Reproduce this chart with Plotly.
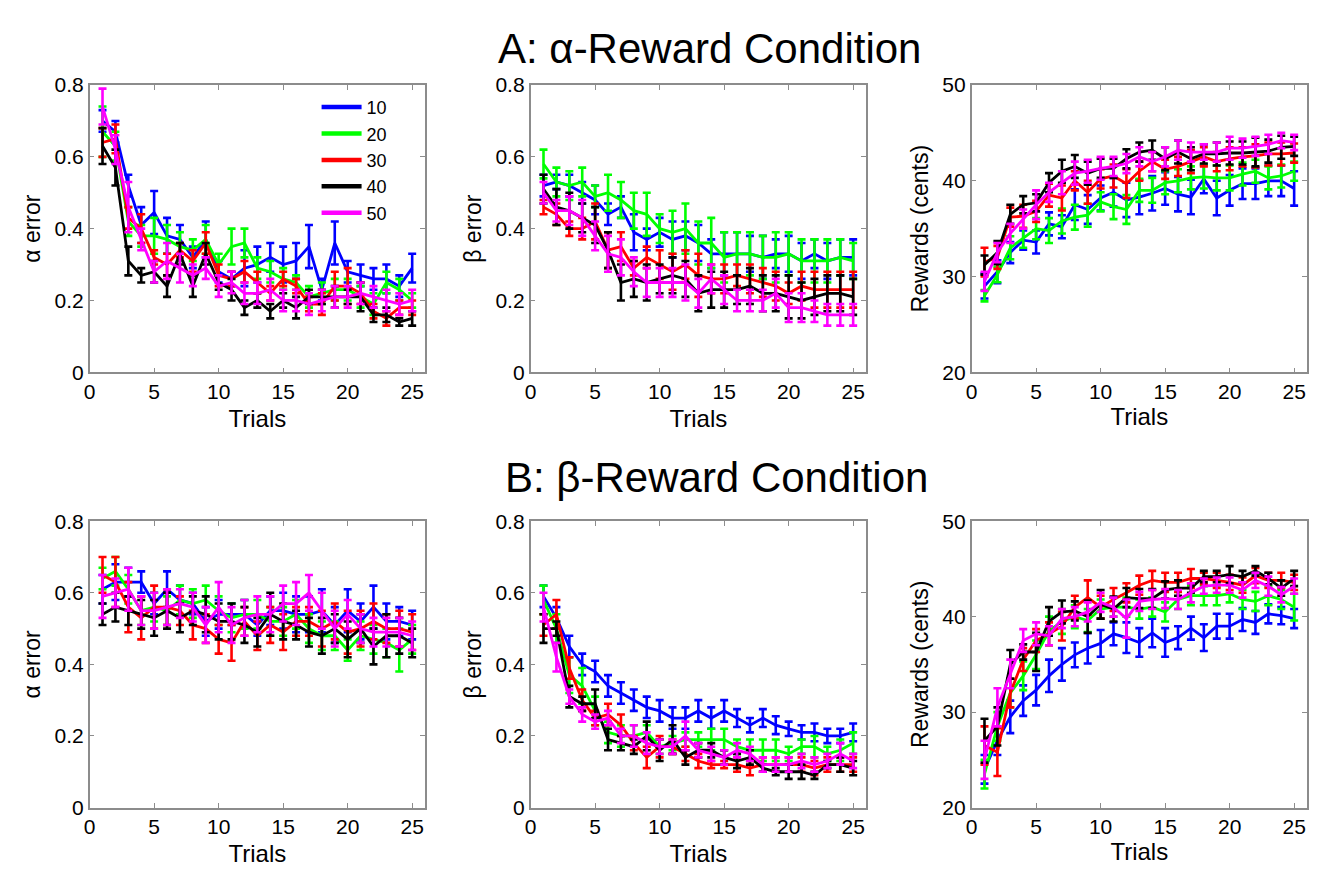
import plotly.graph_objects as go

trials = list(range(1, 26))
series_labels = ["10", "20", "30", "40", "50"]
series_colors = ["#0000FF", "#00FF00", "#FF0000", "#000000", "#FF00FF"]

# ---------- A: alpha-reward condition ----------
# alpha error
a_alpha_10 = [0.70, 0.67, 0.52, 0.41, 0.445, 0.38, 0.37, 0.32, 0.37, 0.28, 0.26, 0.29, 0.30, 0.32, 0.30, 0.31, 0.35, 0.23, 0.36, 0.28, 0.27, 0.26, 0.26, 0.24, 0.29]
a_alpha_20 = [0.67, 0.63, 0.42, 0.38, 0.38, 0.37, 0.35, 0.34, 0.37, 0.30, 0.35, 0.36, 0.29, 0.28, 0.26, 0.25, 0.21, 0.22, 0.23, 0.23, 0.21, 0.19, 0.25, 0.23, 0.20]
a_alpha_30 = [0.64, 0.65, 0.43, 0.40, 0.32, 0.30, 0.34, 0.31, 0.36, 0.27, 0.26, 0.28, 0.25, 0.22, 0.26, 0.24, 0.19, 0.19, 0.24, 0.24, 0.22, 0.17, 0.15, 0.18, 0.18]
a_alpha_40 = [0.63, 0.57, 0.31, 0.27, 0.28, 0.24, 0.33, 0.24, 0.33, 0.25, 0.23, 0.18, 0.20, 0.17, 0.20, 0.18, 0.21, 0.21, 0.21, 0.21, 0.21, 0.16, 0.16, 0.14, 0.15]
a_alpha_50 = [0.74, 0.62, 0.46, 0.37, 0.28, 0.31, 0.29, 0.27, 0.29, 0.24, 0.25, 0.22, 0.22, 0.23, 0.20, 0.20, 0.19, 0.20, 0.21, 0.21, 0.22, 0.21, 0.20, 0.19, 0.20]
a_alpha_10_err = [0.03, 0.03, 0.03, 0.05, 0.06, 0.05, 0.04, 0.03, 0.05, 0.03, 0.02, 0.05, 0.05, 0.04, 0.05, 0.05, 0.06, 0.03, 0.06, 0.03, 0.03, 0.03, 0.04, 0.03, 0.04]
a_alpha_20_err = [0.07, 0.04, 0.04, 0.03, 0.05, 0.04, 0.04, 0.03, 0.04, 0.03, 0.05, 0.04, 0.03, 0.03, 0.03, 0.02, 0.03, 0.03, 0.03, 0.03, 0.03, 0.03, 0.03, 0.03, 0.02]
a_alpha_30_err = [0.04, 0.04, 0.03, 0.04, 0.02, 0.03, 0.02, 0.03, 0.03, 0.03, 0.02, 0.03, 0.03, 0.02, 0.02, 0.02, 0.02, 0.03, 0.04, 0.05, 0.03, 0.02, 0.02, 0.02, 0.02]
a_alpha_40_err = [0.05, 0.05, 0.04, 0.02, 0.03, 0.03, 0.03, 0.03, 0.03, 0.02, 0.03, 0.02, 0.02, 0.02, 0.02, 0.03, 0.02, 0.02, 0.03, 0.02, 0.04, 0.02, 0.02, 0.01, 0.02]
a_alpha_50_err = [0.05, 0.04, 0.07, 0.03, 0.03, 0.05, 0.04, 0.03, 0.03, 0.03, 0.03, 0.03, 0.03, 0.03, 0.03, 0.03, 0.03, 0.03, 0.03, 0.03, 0.03, 0.03, 0.03, 0.03, 0.03]

# beta error
a_beta_10 = [0.52, 0.53, 0.52, 0.50, 0.48, 0.44, 0.46, 0.39, 0.37, 0.39, 0.37, 0.38, 0.36, 0.33, 0.33, 0.33, 0.33, 0.32, 0.33, 0.33, 0.31, 0.33, 0.31, 0.32, 0.32]
a_beta_20 = [0.58, 0.53, 0.52, 0.53, 0.49, 0.50, 0.48, 0.45, 0.44, 0.40, 0.39, 0.40, 0.36, 0.36, 0.32, 0.33, 0.33, 0.32, 0.32, 0.33, 0.31, 0.31, 0.31, 0.32, 0.31]
a_beta_30 = [0.46, 0.44, 0.40, 0.40, 0.42, 0.34, 0.35, 0.29, 0.32, 0.30, 0.28, 0.30, 0.27, 0.26, 0.26, 0.27, 0.26, 0.25, 0.24, 0.22, 0.24, 0.23, 0.23, 0.23, 0.23]
a_beta_40 = [0.51, 0.46, 0.45, 0.43, 0.41, 0.34, 0.25, 0.26, 0.25, 0.26, 0.27, 0.26, 0.22, 0.23, 0.23, 0.23, 0.24, 0.22, 0.22, 0.21, 0.20, 0.21, 0.22, 0.22, 0.21]
a_beta_50 = [0.50, 0.45, 0.45, 0.43, 0.38, 0.33, 0.32, 0.28, 0.25, 0.25, 0.25, 0.25, 0.22, 0.26, 0.23, 0.20, 0.20, 0.20, 0.22, 0.18, 0.18, 0.17, 0.16, 0.16, 0.16]
a_beta_10_err = [0.03, 0.02, 0.03, 0.03, 0.04, 0.03, 0.03, 0.05, 0.03, 0.04, 0.05, 0.04, 0.05, 0.04, 0.06, 0.06, 0.05, 0.06, 0.04, 0.05, 0.05, 0.04, 0.05, 0.05, 0.05]
a_beta_20_err = [0.04, 0.04, 0.04, 0.04, 0.03, 0.05, 0.05, 0.05, 0.06, 0.04, 0.06, 0.07, 0.06, 0.07, 0.07, 0.06, 0.06, 0.06, 0.07, 0.06, 0.06, 0.06, 0.06, 0.05, 0.05]
a_beta_30_err = [0.02, 0.03, 0.02, 0.03, 0.05, 0.05, 0.04, 0.02, 0.03, 0.04, 0.05, 0.04, 0.06, 0.04, 0.04, 0.03, 0.04, 0.04, 0.04, 0.03, 0.04, 0.05, 0.05, 0.05, 0.05]
a_beta_40_err = [0.04, 0.05, 0.05, 0.04, 0.05, 0.05, 0.05, 0.05, 0.05, 0.04, 0.05, 0.05, 0.05, 0.05, 0.05, 0.04, 0.05, 0.05, 0.05, 0.06, 0.05, 0.05, 0.05, 0.05, 0.05]
a_beta_50_err = [0.03, 0.03, 0.04, 0.05, 0.04, 0.05, 0.05, 0.04, 0.04, 0.04, 0.04, 0.05, 0.04, 0.04, 0.04, 0.03, 0.03, 0.03, 0.04, 0.04, 0.04, 0.03, 0.03, 0.03, 0.03]

# rewards
a_rew_10 = [29.0, 30.5, 32.5, 33.8, 33.6, 35.5, 35.2, 37.5, 37.0, 38.2, 38.8, 38.0, 38.3, 38.7, 39.2, 38.6, 38.3, 40.2, 38.2, 39.0, 39.7, 39.7, 40.0, 40.0, 39.2]
a_rew_20 = [28.0, 30.2, 33.0, 34.0, 35.0, 34.8, 35.8, 36.2, 36.4, 37.8, 37.3, 37.0, 39.0, 39.0, 39.8, 40.0, 40.3, 40.4, 40.3, 40.3, 40.7, 41.0, 40.3, 40.5, 41.0]
a_rew_30 = [31.5, 32.0, 36.2, 36.3, 36.8, 38.5, 38.2, 40.0, 38.8, 40.2, 40.5, 39.7, 41.0, 42.0, 41.2, 41.5, 42.0, 42.5, 42.0, 42.3, 42.5, 42.6, 42.8, 42.8, 42.9]
a_rew_40 = [31.2, 32.5, 36.5, 37.5, 37.7, 39.8, 41.0, 41.5, 40.8, 41.3, 41.3, 42.3, 43.0, 43.2, 42.3, 43.0, 42.3, 42.8, 42.8, 42.9, 42.9, 43.0, 43.1, 43.5, 43.6]
a_rew_50 = [29.5, 32.5, 34.5, 36.0, 37.5, 38.8, 39.8, 40.8, 41.0, 41.3, 41.5, 41.8, 42.5, 42.0, 42.5, 43.2, 43.0, 43.0, 43.0, 43.4, 43.4, 43.6, 43.8, 44.2, 44.0]
a_rew_10_err = [1.3, 1.2, 1.1, 1.0, 1.2, 1.2, 1.2, 1.6, 1.5, 1.3, 1.5, 1.8, 1.8, 1.8, 1.7, 1.8, 1.8, 1.5, 1.8, 1.6, 1.6, 1.6, 1.6, 1.6, 1.8]
a_rew_20_err = [0.6, 0.8, 1.2, 1.0, 1.1, 1.3, 1.3, 1.3, 1.2, 1.0, 1.3, 1.5, 1.2, 1.3, 1.2, 1.2, 1.2, 1.2, 1.3, 1.3, 1.2, 1.2, 1.2, 1.2, 1.0]
a_rew_30_err = [1.5, 1.2, 1.0, 1.2, 1.1, 1.2, 1.3, 1.0, 1.2, 1.0, 1.2, 1.5, 1.0, 1.0, 1.0, 1.0, 1.2, 1.0, 1.0, 1.2, 1.0, 1.2, 1.2, 1.2, 1.0]
a_rew_40_err = [1.0, 1.2, 1.0, 0.9, 0.9, 1.0, 1.2, 1.2, 1.2, 1.0, 1.0, 1.0, 1.0, 1.0, 1.2, 1.2, 1.2, 1.0, 1.2, 1.2, 1.2, 1.5, 1.2, 1.2, 1.0]
a_rew_50_err = [1.0, 1.0, 1.0, 1.0, 1.5, 1.0, 1.2, 1.2, 1.2, 1.2, 1.0, 1.0, 1.0, 1.0, 1.0, 1.0, 1.0, 0.8, 1.0, 1.2, 1.0, 1.0, 1.0, 0.8, 0.8]

# ---------- B: beta-reward condition ----------
b_alpha_10 = [0.61, 0.63, 0.63, 0.63, 0.57, 0.61, 0.58, 0.57, 0.52, 0.54, 0.54, 0.54, 0.51, 0.55, 0.55, 0.54, 0.54, 0.55, 0.51, 0.55, 0.52, 0.56, 0.52, 0.52, 0.51]
b_alpha_20 = [0.64, 0.66, 0.61, 0.55, 0.56, 0.55, 0.58, 0.57, 0.58, 0.55, 0.53, 0.54, 0.54, 0.52, 0.52, 0.54, 0.50, 0.48, 0.48, 0.44, 0.48, 0.47, 0.46, 0.44, 0.47]
b_alpha_30 = [0.65, 0.63, 0.56, 0.53, 0.56, 0.56, 0.55, 0.51, 0.50, 0.47, 0.46, 0.52, 0.48, 0.51, 0.49, 0.52, 0.52, 0.50, 0.52, 0.49, 0.50, 0.52, 0.50, 0.50, 0.49]
b_alpha_40 = [0.54, 0.56, 0.55, 0.54, 0.53, 0.55, 0.53, 0.55, 0.54, 0.52, 0.52, 0.51, 0.49, 0.54, 0.52, 0.51, 0.49, 0.48, 0.50, 0.47, 0.50, 0.45, 0.48, 0.48, 0.46]
b_alpha_50 = [0.59, 0.60, 0.61, 0.55, 0.55, 0.56, 0.57, 0.56, 0.51, 0.56, 0.51, 0.53, 0.54, 0.54, 0.57, 0.57, 0.60, 0.55, 0.50, 0.54, 0.50, 0.49, 0.49, 0.49, 0.48]
b_alpha_10_err = [0.04, 0.05, 0.04, 0.03, 0.03, 0.05, 0.04, 0.03, 0.04, 0.04, 0.03, 0.04, 0.03, 0.04, 0.05, 0.05, 0.05, 0.06, 0.05, 0.06, 0.05, 0.06, 0.05, 0.04, 0.04]
b_alpha_20_err = [0.03, 0.04, 0.04, 0.04, 0.04, 0.04, 0.04, 0.04, 0.04, 0.04, 0.04, 0.04, 0.04, 0.04, 0.04, 0.04, 0.04, 0.04, 0.04, 0.03, 0.04, 0.04, 0.04, 0.06, 0.04]
b_alpha_30_err = [0.05, 0.07, 0.07, 0.06, 0.06, 0.05, 0.04, 0.04, 0.04, 0.04, 0.05, 0.04, 0.04, 0.05, 0.05, 0.04, 0.04, 0.05, 0.05, 0.06, 0.05, 0.05, 0.04, 0.05, 0.05]
b_alpha_40_err = [0.03, 0.04, 0.04, 0.04, 0.05, 0.05, 0.04, 0.04, 0.05, 0.05, 0.05, 0.05, 0.04, 0.06, 0.05, 0.04, 0.04, 0.05, 0.04, 0.05, 0.04, 0.05, 0.06, 0.05, 0.04]
b_alpha_50_err = [0.06, 0.04, 0.06, 0.04, 0.05, 0.05, 0.04, 0.04, 0.05, 0.07, 0.05, 0.05, 0.05, 0.05, 0.05, 0.06, 0.05, 0.05, 0.05, 0.04, 0.04, 0.04, 0.04, 0.04, 0.04]

b_beta_10 = [0.59, 0.53, 0.45, 0.40, 0.38, 0.34, 0.32, 0.30, 0.28, 0.27, 0.25, 0.25, 0.27, 0.25, 0.27, 0.25, 0.23, 0.25, 0.23, 0.22, 0.21, 0.21, 0.20, 0.20, 0.21]
b_beta_20 = [0.58, 0.50, 0.37, 0.34, 0.27, 0.21, 0.20, 0.20, 0.21, 0.17, 0.18, 0.19, 0.19, 0.19, 0.19, 0.17, 0.16, 0.16, 0.16, 0.15, 0.17, 0.17, 0.15, 0.16, 0.18]
b_beta_30 = [0.51, 0.54, 0.39, 0.30, 0.25, 0.26, 0.23, 0.18, 0.14, 0.17, 0.17, 0.15, 0.13, 0.12, 0.12, 0.12, 0.11, 0.12, 0.12, 0.12, 0.12, 0.11, 0.12, 0.12, 0.12]
b_beta_40 = [0.50, 0.50, 0.31, 0.29, 0.29, 0.19, 0.18, 0.17, 0.20, 0.16, 0.19, 0.14, 0.16, 0.16, 0.14, 0.13, 0.14, 0.11, 0.10, 0.10, 0.10, 0.09, 0.12, 0.12, 0.11]
b_beta_50 = [0.56, 0.42, 0.31, 0.26, 0.24, 0.25, 0.20, 0.20, 0.18, 0.17, 0.17, 0.20, 0.16, 0.15, 0.14, 0.16, 0.15, 0.12, 0.12, 0.12, 0.13, 0.12, 0.13, 0.15, 0.13]
b_beta_10_err = [0.03, 0.03, 0.03, 0.03, 0.03, 0.03, 0.03, 0.03, 0.03, 0.03, 0.03, 0.03, 0.03, 0.03, 0.03, 0.025, 0.02, 0.025, 0.025, 0.02, 0.02, 0.025, 0.02, 0.02, 0.025]
b_beta_20_err = [0.04, 0.04, 0.05, 0.05, 0.04, 0.03, 0.03, 0.03, 0.02, 0.02, 0.02, 0.02, 0.02, 0.03, 0.03, 0.02, 0.03, 0.03, 0.03, 0.02, 0.02, 0.03, 0.02, 0.03, 0.03]
b_beta_30_err = [0.03, 0.04, 0.03, 0.03, 0.02, 0.03, 0.03, 0.02, 0.03, 0.03, 0.02, 0.02, 0.02, 0.01, 0.01, 0.02, 0.02, 0.02, 0.02, 0.02, 0.02, 0.02, 0.02, 0.02, 0.02]
b_beta_40_err = [0.04, 0.02, 0.03, 0.02, 0.04, 0.03, 0.02, 0.02, 0.04, 0.03, 0.04, 0.02, 0.02, 0.02, 0.02, 0.02, 0.02, 0.01, 0.01, 0.02, 0.02, 0.01, 0.01, 0.02, 0.02]
b_beta_50_err = [0.04, 0.04, 0.02, 0.02, 0.02, 0.02, 0.02, 0.03, 0.03, 0.02, 0.02, 0.04, 0.02, 0.02, 0.02, 0.02, 0.02, 0.02, 0.02, 0.02, 0.02, 0.02, 0.02, 0.03, 0.02]

b_rew_10 = [24.0, 27.0, 29.5, 31.2, 32.3, 33.8, 35.0, 36.0, 36.7, 37.2, 38.2, 37.8, 37.3, 38.3, 37.3, 37.8, 38.8, 37.8, 39.0, 39.0, 39.7, 39.4, 40.3, 40.1, 39.8]
b_rew_20 = [23.5, 28.5, 32.0, 33.8, 36.0, 38.5, 39.5, 40.0, 39.6, 40.8, 41.0, 41.0, 40.8, 41.0, 40.5, 41.8, 42.2, 42.2, 42.2, 42.4, 41.8, 41.6, 42.2, 41.8, 41.0]
b_rew_30 = [26.5, 25.8, 32.0, 35.5, 37.5, 38.2, 39.0, 41.0, 42.0, 41.0, 41.8, 42.5, 43.3, 43.8, 43.6, 43.6, 44.0, 44.0, 43.8, 43.6, 43.3, 44.3, 43.8, 43.8, 43.6]
b_rew_40 = [27.0, 28.5, 35.0, 36.3, 36.3, 39.5, 40.5, 40.6, 40.0, 41.3, 40.8, 42.0, 41.9, 41.9, 42.8, 43.0, 43.0, 44.2, 44.2, 44.4, 44.2, 44.8, 44.0, 43.0, 44.0]
b_rew_50 = [25.0, 30.5, 34.0, 37.5, 38.2, 38.0, 39.8, 40.0, 40.5, 41.5, 41.0, 39.8, 41.6, 41.8, 41.9, 41.8, 42.5, 43.2, 43.3, 43.3, 42.8, 43.8, 43.2, 42.3, 43.2]
b_rew_10_err = [1.5, 1.5, 1.7, 1.6, 1.6, 1.7, 1.7, 1.3, 1.6, 1.4, 1.2, 1.6, 1.5, 1.5, 1.5, 1.2, 1.2, 1.4, 1.3, 1.3, 1.2, 1.2, 1.0, 0.9, 1.0]
b_rew_20_err = [1.5, 1.5, 1.5, 1.5, 1.5, 1.5, 1.3, 1.2, 1.2, 1.0, 1.0, 1.0, 1.0, 1.0, 1.0, 1.0, 1.0, 1.0, 1.0, 0.9, 1.0, 1.0, 1.0, 1.0, 1.4]
b_rew_30_err = [2.0, 2.5, 1.5, 1.2, 1.2, 1.2, 1.5, 1.2, 1.8, 1.2, 1.2, 1.0, 1.0, 1.0, 1.0, 1.0, 1.0, 0.6, 0.8, 0.8, 0.8, 0.8, 0.8, 0.8, 0.8]
b_rew_40_err = [2.3, 2.0, 1.5, 0.8, 2.0, 1.5, 1.2, 1.0, 1.7, 1.5, 1.3, 1.0, 1.0, 1.0, 0.9, 0.8, 0.5, 0.6, 0.6, 0.9, 0.6, 0.5, 0.6, 0.8, 0.8]
b_rew_50_err = [2.0, 2.0, 1.5, 1.2, 1.2, 1.0, 1.0, 1.0, 1.0, 1.0, 1.0, 2.0, 1.0, 1.0, 1.0, 1.0, 1.0, 0.8, 0.8, 0.8, 0.8, 0.8, 1.0, 0.8, 0.8]

x_tickvals = [0, 5, 10, 15, 20, 25]
err_tickvals = [0, 0.2, 0.4, 0.6, 0.8]
rew_tickvals = [20, 30, 40, 50]

panel_series = [
    ([a_alpha_10, a_alpha_20, a_alpha_30, a_alpha_40, a_alpha_50],
     [a_alpha_10_err, a_alpha_20_err, a_alpha_30_err, a_alpha_40_err, a_alpha_50_err]),
    ([a_beta_10, a_beta_20, a_beta_30, a_beta_40, a_beta_50],
     [a_beta_10_err, a_beta_20_err, a_beta_30_err, a_beta_40_err, a_beta_50_err]),
    ([a_rew_10, a_rew_20, a_rew_30, a_rew_40, a_rew_50],
     [a_rew_10_err, a_rew_20_err, a_rew_30_err, a_rew_40_err, a_rew_50_err]),
    ([b_alpha_10, b_alpha_20, b_alpha_30, b_alpha_40, b_alpha_50],
     [b_alpha_10_err, b_alpha_20_err, b_alpha_30_err, b_alpha_40_err, b_alpha_50_err]),
    ([b_beta_10, b_beta_20, b_beta_30, b_beta_40, b_beta_50],
     [b_beta_10_err, b_beta_20_err, b_beta_30_err, b_beta_40_err, b_beta_50_err]),
    ([b_rew_10, b_rew_20, b_rew_30, b_rew_40, b_rew_50],
     [b_rew_10_err, b_rew_20_err, b_rew_30_err, b_rew_40_err, b_rew_50_err]),
]
y_titles = ["\u03b1 error", "\u03b2 error", "Rewards (cents)"] * 2

FONT = "Liberation Sans, Arial, Helvetica, sans-serif"
W, H = 1319, 875
col_dom = [[84 / W, 421 / W], [527 / W, 864 / W], [970 / W, 1307 / W]]
row_dom = [[1 - 370 / H, 1 - 75 / H], [1 - 817 / H, 1 - 523 / H]]

fig = go.Figure()
for p, (vals, errs) in enumerate(panel_series):
    ax = "" if p == 0 else str(p + 1)
    for s in range(5):
        fig.add_trace(go.Scatter(
            x=trials, y=vals[s],
            mode="lines",
            name=series_labels[s],
            legendgroup=series_labels[s],
            showlegend=False,
            line=dict(color=series_colors[s], width=2.8),
            error_y=dict(type="data", array=errs[s], visible=True,
                         color=series_colors[s], thickness=2.6, width=4),
            xaxis="x" + ax, yaxis="y" + ax,
        ))

# legend entries (thicker key lines, as in the original legend box)
for s in range(5):
    fig.add_trace(go.Scatter(
        x=[None], y=[None], mode="lines", name=series_labels[s],
        legendgroup=series_labels[s], showlegend=True,
        line=dict(color=series_colors[s], width=4.5),
        xaxis="x", yaxis="y", hoverinfo="skip",
    ))

axis_common = dict(
    showline=True, linecolor="#8c8c8c", linewidth=1.5, mirror="allticks",
    ticks="inside", ticklen=5, tickcolor="#8c8c8c", tickwidth=1,
    showgrid=False, zeroline=False,
    tickfont=dict(family=FONT, size=21, color="black"),
)
layout = dict(
    width=W, height=H,
    margin=dict(l=0, r=0, t=0, b=0),
    paper_bgcolor="white", plot_bgcolor="white",
    font=dict(family=FONT, color="black"),
    legend=dict(x=312 / W, y=1 - 79 / H, xanchor="left", yanchor="top",
                bgcolor="rgba(0,0,0,0)", font=dict(family=FONT, size=18),
                tracegroupgap=0, itemwidth=40),
    annotations=[
        dict(text="A: \u03b1-Reward Condition", x=707 / W, y=1 - 37 / H,
             xref="paper", yref="paper", xanchor="center", yanchor="middle",
             showarrow=False, font=dict(family=FONT, size=42, color="black")),
        dict(text="B: \u03b2-Reward Condition", x=714 / W, y=1 - 478 / H,
             xref="paper", yref="paper", xanchor="center", yanchor="middle",
             showarrow=False, font=dict(family=FONT, size=42, color="black")),
    ],
)
for p in range(6):
    ax = "" if p == 0 else str(p + 1)
    r, c = divmod(p, 3)
    is_rew = (c == 2)
    layout["xaxis" + ax] = dict(
        axis_common, domain=col_dom[c], anchor="y" + ax,
        range=[0, 26], tickvals=x_tickvals,
        title=dict(text="Trials", font=dict(family=FONT, size=24, color="black"),
                   standoff=0 if is_rew else 8),
    )
    layout["yaxis" + ax] = dict(
        axis_common, domain=row_dom[r], anchor="x" + ax,
        range=[20, 50] if is_rew else [0, 0.8],
        tickvals=rew_tickvals if is_rew else err_tickvals,
        ticktext=[str(v) for v in (rew_tickvals if is_rew else err_tickvals)],
        title=dict(text=y_titles[p], font=dict(family=FONT, size=23, color="black"),
                   standoff=7),
    )
fig.update_layout(**layout)
fig.write_html("out.html",
               config={"displayModeBar": False},
               post_script="document.body.style.margin='0';"
                           "document.body.style.overflow='hidden';")
